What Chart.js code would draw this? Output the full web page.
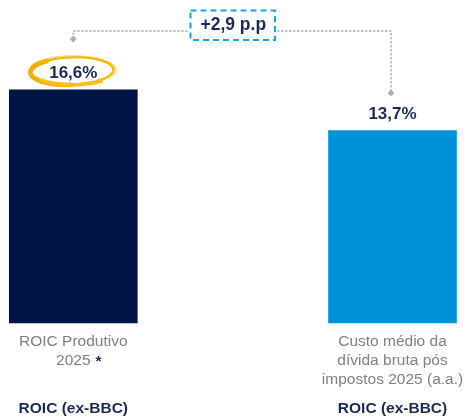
<!DOCTYPE html>
<html><head><meta charset="utf-8">
<script src="https://cdn.jsdelivr.net/npm/chart.js@4"></script>
<style>html,body{margin:0;padding:0;background:#fff;}canvas{display:block;}</style>
</head><body>
<canvas id="c" width="466" height="417"></canvas>
<script>
const categories = ['ROIC Produtivo 2025', 'Custo médio da dívida bruta pós impostos 2025 (a.a.)'];
const categoryLines = [['ROIC Produtivo', '2025'], ['Custo médio da', 'dívida bruta pós', 'impostos 2025 (a.a.)']];
const values = [16.6, 13.7];
const valueLabels = ['16,6%', '13,7%'];
const groupLabels = ['ROIC (ex-BBC)', 'ROIC (ex-BBC)'];
const deltaLabel = '+2,9 p.p';
const barColors = ['#001443', '#0092d9'];

const NAVY = '#1b2a55';
const FONT = '"Liberation Sans", Arial, sans-serif';

const overlay = {
  id: 'overlay',
  afterDatasetsDraw(chart) {
    const ctx = chart.ctx;
    const xs = chart.scales.x;
    const meta = chart.getDatasetMeta(0);
    ctx.save();
    ctx.textAlign = 'center';
    ctx.textBaseline = 'middle';
    categoryLines.forEach((lines, i) => {
      const cx = xs.getPixelForValue(i);
      lines.forEach((t, j) => {
        ctx.font = '15.5px ' + FONT;
        ctx.fillStyle = '#808080';
        const y = 342 + j * 19;
        ctx.fillText(t, cx, y);
        if (i === 0 && j === 1) {
          const w = ctx.measureText(t).width;
          ctx.font = 'bold 15.5px ' + FONT;
          ctx.fillStyle = NAVY;
          ctx.textAlign = 'left';
          ctx.fillText('*', cx + w / 2 + 5, y + 1);
          ctx.textAlign = 'center';
        }
      });
      ctx.font = 'bold 15.5px ' + FONT;
      ctx.fillStyle = NAVY;
      ctx.fillText(groupLabels[i], cx, 408.5);
    });
    const tops = meta.data.map(b => b.y);
    const cxs = meta.data.map(b => b.x);
    // ellipse around first value
    const ex = cxs[0] - 2, ey = tops[0] - 19;
    ctx.lineCap = 'round';
    ctx.strokeStyle = '#fbd655';
    ctx.lineWidth = 1.5;
    ctx.beginPath(); ctx.ellipse(ex + 1.5, ey - 1, 43, 14, 0, 0, Math.PI * 2); ctx.stroke();
    ctx.strokeStyle = '#f2b500';
    ctx.lineWidth = 2;
    ctx.beginPath(); ctx.ellipse(ex, ey, 42, 13.5, -0.03, 0, Math.PI * 2); ctx.stroke();
    ctx.lineWidth = 4.5;
    ctx.strokeStyle = '#f0b000';
    ctx.beginPath(); ctx.ellipse(ex, ey + 0.5, 41, 13.5, -0.03, Math.PI * 0.5, Math.PI * 1.3); ctx.stroke();
    ctx.lineWidth = 3;
    ctx.strokeStyle = '#f6c21c';
    ctx.beginPath(); ctx.ellipse(ex + 2, ey + 1.5, 40, 12.5, 0, Math.PI * 0.25, Math.PI * 0.8); ctx.stroke();

    ctx.font = 'bold 17px ' + FONT;
    ctx.fillStyle = NAVY;
    ctx.textAlign = 'center';
    ctx.textBaseline = 'middle';
    valueLabels.forEach((t, i) => {
      ctx.fillText(t, cxs[i], tops[i] - 16.5);
    });

    // connector
    const lineY = 31;
    const boxL = 190.5, boxR = 275, boxT = 10.5, boxB = 40;
    const x1 = cxs[0], x2 = cxs[1] - 1.5;
    ctx.strokeStyle = '#b5b5b5';
    ctx.lineWidth = 2;
    ctx.lineCap = 'round';
    ctx.setLineDash([0.5, 3.5]);
    ctx.beginPath();
    ctx.moveTo(x1, 38); ctx.lineTo(x1, lineY); ctx.lineTo(boxL - 3, lineY);
    ctx.moveTo(boxR + 3, lineY); ctx.lineTo(x2, lineY); ctx.lineTo(x2, tops[1] - 38);
    ctx.stroke();
    ctx.setLineDash([]);
    ctx.fillStyle = '#b0b0b0';
    [[x1, 39], [x2, tops[1] - 37.5]].forEach(([dx, dy]) => {
      ctx.beginPath();
      ctx.moveTo(dx, dy - 3.5); ctx.lineTo(dx + 3.5, dy); ctx.lineTo(dx, dy + 3.5); ctx.lineTo(dx - 3.5, dy);
      ctx.closePath(); ctx.fill();
    });
    // dashed box
    ctx.strokeStyle = '#1ea2e6';
    ctx.lineWidth = 2;
    ctx.lineCap = 'butt';
    ctx.setLineDash([6, 4]);
    ctx.strokeRect(boxL, boxT, boxR - boxL, boxB - boxT);
    ctx.setLineDash([]);
    ctx.font = 'bold 17.5px ' + FONT;
    ctx.fillStyle = NAVY;
    ctx.fillText(deltaLabel, (boxL + boxR) / 2 + 0.5, 25);
    ctx.restore();
  }
};

new Chart(document.getElementById('c'), {
  type: 'bar',
  data: {
    labels: categories,
    datasets: [{
      data: values,
      backgroundColor: barColors,
      borderWidth: 0,
      barThickness: 128,
      clip: false
    }]
  },
  options: {
    responsive: false,
    animation: false,
    devicePixelRatio: 1,
    layout: { padding: { left: 73.3, right: 73.5, top: 0, bottom: 94 } },
    plugins: { legend: { display: false }, tooltip: { enabled: false } },
    scales: {
      x: { display: false, offset: false },
      y: { display: false, min: 0, max: 23 }
    }
  },
  plugins: [overlay]
});
</script>
</body></html>
